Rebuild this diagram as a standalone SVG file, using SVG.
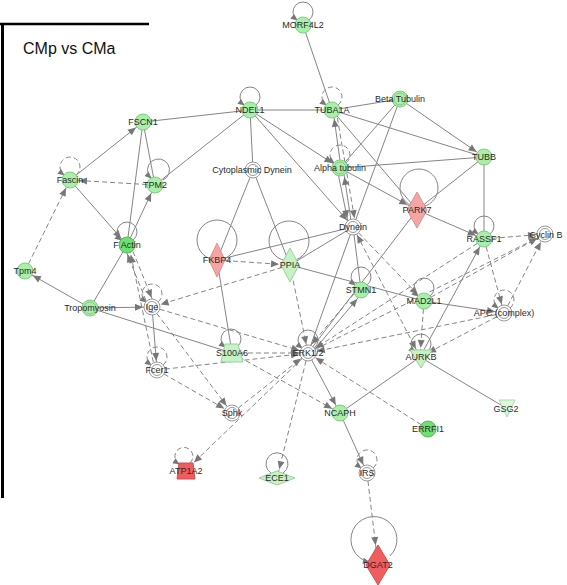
<svg xmlns="http://www.w3.org/2000/svg" width="567" height="585" viewBox="0 0 567 585">
<style>
.e{stroke:#858585;stroke-width:1;fill:none}
.d{stroke-dasharray:5,3}
.g{fill:#a8efa8;stroke:#86c886;stroke-width:1}
.gd{fill:#6fe06f;stroke:#5cb85c;stroke-width:1}
.w{fill:#fff;stroke:#9a9a9a;stroke-width:1}
.pk{fill:#f5a5a5;stroke:#dd9090;stroke-width:1}
.rd{fill:#ef5d5d;stroke:#d05050;stroke-width:1}
.lg{fill:#c6f3c6;stroke:#9bd09b;stroke-width:1}
text{font-family:"Liberation Sans",Arial,sans-serif;font-size:9px;fill:#2a2a2a;text-anchor:middle}
.a9{marker-end:url(#a9)}
.a11{marker-end:url(#a11)}
.a23{marker-end:url(#a23)}
.a0{marker-end:url(#a0)}
</style>
<defs>
<marker id="a9" markerUnits="userSpaceOnUse" orient="auto" markerWidth="30" markerHeight="20" viewBox="-30 -10 30 20" refX="0" refY="0"><path d="M-9,0 L-17,-3.5 L-17,3.5 z" fill="#777"/></marker>
<marker id="a11" markerUnits="userSpaceOnUse" orient="auto" markerWidth="30" markerHeight="20" viewBox="-30 -10 30 20" refX="0" refY="0"><path d="M-11,0 L-19,-3.5 L-19,3.5 z" fill="#777"/></marker>
<marker id="a23" markerUnits="userSpaceOnUse" orient="auto" markerWidth="40" markerHeight="20" viewBox="-40 -10 40 20" refX="0" refY="0"><path d="M-20,0 L-28,-3.5 L-28,3.5 z" fill="#777"/></marker>
<marker id="a0" markerUnits="userSpaceOnUse" orient="auto" markerWidth="20" markerHeight="20" viewBox="-10 -10 20 20" refX="0" refY="0"><path d="M1,0 L-6,-3 L-6,3 z" fill="#777"/></marker>
<marker id="s9" markerUnits="userSpaceOnUse" orient="auto-start-reverse" markerWidth="30" markerHeight="20" viewBox="-30 -10 30 20" refX="0" refY="0"><path d="M-9,0 L-17,-3.5 L-17,3.5 z" fill="#777"/></marker>
</defs>

<rect x="0" y="0" width="567" height="585" fill="#fff"/>
<line x1="0" y1="24" x2="149" y2="24" stroke="#000" stroke-width="2.5"/>
<line x1="2.5" y1="24" x2="2.5" y2="498" stroke="#000" stroke-width="3"/>
<text x="23" y="54" style="font-size:16px;text-anchor:start;fill:#111">CMp vs CMa</text>

<g id="connectors">
<line class="e" x1="303" y1="25" x2="332" y2="110"/>
<line class="e" x1="250" y1="110" x2="332" y2="110"/>
<line class="e" x1="143" y1="122" x2="250" y2="110"/>
<line class="e" x1="250" y1="110" x2="155" y2="185"/>
<line class="e" x1="250" y1="110" x2="253" y2="170"/>
<line class="e a9" x1="250" y1="110" x2="340" y2="168"/>
<line class="e a9" x1="250" y1="110" x2="353" y2="227"/>
<line class="e" x1="332" y1="110" x2="400" y2="99"/>
<line class="e" x1="332" y1="110" x2="484" y2="157"/>
<line class="e" x1="332" y1="110" x2="417" y2="210"/>
<line class="e a9" x1="341" y1="168" x2="333" y2="110"/>
<line class="e d a9" x1="336" y1="110" x2="356" y2="227"/>
<line class="e a9" x1="337" y1="168" x2="349" y2="227"/>
<line class="e a9" x1="352" y1="227" x2="343" y2="168"/>
<line class="e" x1="400" y1="99" x2="340" y2="168"/>
<line class="e a9" x1="400" y1="99" x2="484" y2="157"/>
<line class="e" x1="400" y1="99" x2="353" y2="227"/>
<line class="e" x1="340" y1="168" x2="484" y2="157"/>
<line class="e a11" x1="340" y1="168" x2="417" y2="210"/>
<line class="e" x1="484" y1="157" x2="417" y2="210"/>
<line class="e" x1="484" y1="157" x2="484" y2="239"/>
<line class="e a9" x1="417" y1="210" x2="484" y2="239"/>
<line class="e" x1="417" y1="210" x2="308" y2="353"/>
<line class="e" x1="143" y1="122" x2="127" y2="245"/>
<line class="e" x1="143" y1="122" x2="155" y2="185"/>
<line class="e a9" x1="70" y1="180" x2="143" y2="122"/>
<line class="e d a9" x1="155" y1="185" x2="70" y2="180"/>
<line class="e a9" x1="70" y1="180" x2="127" y2="245"/>
<line class="e a9" x1="127" y1="245" x2="155" y2="185"/>
<line class="e d a9" x1="25" y1="271" x2="70" y2="180"/>
<line class="e a9" x1="90" y1="308" x2="25" y2="271"/>
<line class="e" x1="90" y1="308" x2="127" y2="245"/>
<line class="e a9" x1="90" y1="308" x2="152" y2="307"/>
<line class="e" x1="90" y1="308" x2="232" y2="353"/>
<line class="e d a9" x1="149" y1="308" x2="124" y2="246"/>
<line class="e d a9" x1="130" y1="244" x2="155" y2="306"/>
<line class="e d a9" x1="155" y1="370" x2="129" y2="246"/>
<line class="e a9" x1="152" y1="307" x2="157" y2="370"/>
<line class="e d a9" x1="290" y1="265" x2="152" y2="307"/>
<line class="e d a9" x1="152" y1="307" x2="308" y2="353"/>
<line class="e d a9" x1="152" y1="307" x2="232" y2="413"/>
<line class="e d a9" x1="157" y1="370" x2="308" y2="353"/>
<line class="e d a9" x1="157" y1="370" x2="232" y2="413"/>
<line class="e d a9" x1="232" y1="353" x2="308" y2="353"/>
<line class="e" x1="217" y1="260" x2="232" y2="353"/>
<line class="e d a11" x1="217" y1="260" x2="290" y2="265"/>
<line class="e" x1="253" y1="170" x2="217" y2="260"/>
<line class="e" x1="253" y1="170" x2="290" y2="265"/>
<line class="e" x1="353" y1="227" x2="217" y2="260"/>
<line class="e" x1="353" y1="227" x2="290" y2="265"/>
<line class="e" x1="290" y1="265" x2="424" y2="301"/>
<line class="e" x1="353" y1="227" x2="361" y2="290"/>
<line class="e" x1="353" y1="227" x2="308" y2="353"/>
<line class="e d a9" x1="290" y1="265" x2="308" y2="353"/>
<line class="e a9" x1="310" y1="355" x2="363" y2="292"/>
<line class="e d a9" x1="359" y1="288" x2="306" y2="351"/>
<line class="e d a9" x1="353" y1="227" x2="424" y2="301"/>
<line class="e d a9" x1="353" y1="227" x2="420" y2="357" marker-start="url(#s9)"/>
<line class="e d a9" x1="424" y1="301" x2="420" y2="357"/>
<line class="e a9" x1="424" y1="301" x2="504" y2="313"/>
<line class="e d a9" x1="424" y1="301" x2="545" y2="234"/>
<line class="e d a9" x1="308" y1="353" x2="545" y2="234"/>
<line class="e d a9" x1="484" y1="239" x2="545" y2="234"/>
<line class="e d a9" x1="484" y1="239" x2="504" y2="313"/>
<line class="e d a9" x1="504" y1="313" x2="545" y2="234"/>
<line class="e d a9" x1="504" y1="313" x2="420" y2="357"/>
<line class="e a9" x1="420" y1="357" x2="484" y2="239"/>
<line class="e" x1="420" y1="357" x2="340" y2="413"/>
<line class="e" x1="420" y1="357" x2="506" y2="408"/>
<line class="e d a9" x1="484" y1="239" x2="308" y2="353"/>
<line class="e d a9" x1="504" y1="313" x2="308" y2="353"/>
<line class="e d a9" x1="428" y1="429" x2="308" y2="353"/>
<line class="e a9" x1="308" y1="353" x2="340" y2="413"/>
<line class="e d a9" x1="232" y1="353" x2="340" y2="413"/>
<line class="e d a9" x1="232" y1="413" x2="308" y2="353"/>
<line class="e d a11" x1="308" y1="353" x2="186" y2="470"/>
<line class="e d a9" x1="308" y1="353" x2="277" y2="478"/>
<line class="e a9" x1="340" y1="413" x2="367" y2="473"/>
<line class="e d a23" x1="367" y1="473" x2="378" y2="565"/>
<!-- self loops -->
<path class="e a0" d="M309,20 A10 10 0 1 0 297,20"/>
<path class="e a0" d="M256,105 A10 10 0 1 0 244,105"/>
<path class="e d a0" d="M338,105 A10 10 0 1 0 326,105"/>
<path class="e d a0" d="M346,163 A10 10 0 1 0 334,163"/>
<path class="e d a0" d="M76,175 A10 10 0 1 0 64,175"/>
<path class="e a0" d="M163,180 A11 11 0 1 0 151,178"/>
<path class="e a0" d="M133,240 A10 10 0 1 0 121,240"/>
<path class="e d a0" d="M158,302 A10 10 0 1 0 146,302"/>
<path class="e d a0" d="M163,365 A10 10 0 1 0 151,365"/>
<path class="e a0" d="M367,285 A10 10 0 1 0 355,285"/>
<path class="e a0" d="M490,234 A10 10 0 1 0 478,234"/>
<path class="e a0" d="M430,296 A10 10 0 1 0 418,296"/>
<path class="e d a0" d="M510,308 A10 10 0 1 0 498,308"/>
<path class="e a0" d="M237,347 A10 10 0 1 0 225,347"/>
<path class="e a0" d="M314,348 A10 10 0 1 0 302,348"/>
<path class="e a0" d="M427,352 A10 10 0 1 0 415,352"/>
<path class="e d a0" d="M190,463 A9 9 0 1 0 179,464"/>
<path class="e d a0" d="M373,468 A10 10 0 1 0 361,468"/>
<path class="e" d="M283,473 A11 11 0 1 0 271,473"/>
<circle class="e" cx="217" cy="240" r="20"/>
<circle class="e" cx="289" cy="241" r="20"/>
<circle class="e" cx="419" cy="188" r="19"/>
<path class="e a0" d="M390,556 A23 23 0 1 0 369,562"/>
</g>

<g id="node-MORF4L2"><circle class="g" cx="303" cy="25" r="8"/><text x="303" y="28">MORF4L2</text></g>
<g id="node-NDEL1"><circle class="g" cx="250" cy="110" r="8"/><text x="250" y="113">NDEL1</text></g>
<g id="node-TUBA1A"><circle class="g" cx="332" cy="110" r="8"/><text x="332" y="113">TUBA1A</text></g>
<g id="node-BetaTubulin"><circle class="g" cx="400" cy="99" r="8"/><circle class="g" cx="400" cy="99" r="6" style="fill:none"/><text x="400" y="102">Beta Tubulin</text></g>
<g id="node-TUBB"><circle class="g" cx="484" cy="157" r="8"/><text x="484" y="160">TUBB</text></g>
<g id="node-FSCN1"><circle class="g" cx="143" cy="122" r="8"/><text x="143" y="125">FSCN1</text></g>
<g id="node-Fascin"><circle class="g" cx="70" cy="180" r="8"/><text x="70" y="183">Fascin</text></g>
<g id="node-TPM2"><circle class="g" cx="155" cy="185" r="8"/><text x="155" y="188">TPM2</text></g>
<g id="node-CytoplasmicDynein"><circle class="w" cx="253" cy="170" r="8"/><circle class="w" cx="253" cy="170" r="5.5"/><text x="252" y="173">Cytoplasmic Dynein</text></g>
<g id="node-AlphaTubulin"><circle class="g" cx="340" cy="168" r="8"/><circle class="g" cx="340" cy="168" r="6" style="fill:none"/><text x="340" y="171">Alpha tubulin</text></g>
<g id="node-PARK7"><polygon class="pk" points="417,192 427,210 417,228 407,210"/><text x="417" y="213">PARK7</text></g>
<g id="node-Dynein"><circle class="w" cx="353" cy="227" r="8"/><circle class="w" cx="353" cy="227" r="5.5"/><text x="353" y="230">Dynein</text></g>
<g id="node-RASSF1"><circle class="g" cx="484" cy="239" r="8"/><text x="484" y="242">RASSF1</text></g>
<g id="node-CyclinB"><circle class="w" cx="545" cy="234" r="8"/><circle class="w" cx="545" cy="234" r="5.5"/><text x="546" y="238">Cyclin B</text></g>
<g id="node-FActin"><circle class="gd" cx="127" cy="245" r="8"/><text x="127" y="248">F Actin</text></g>
<g id="node-Tpm4"><circle class="g" cx="25" cy="271" r="8"/><text x="25" y="274">Tpm4</text></g>
<g id="node-FKBP4"><polygon class="pk" points="217,243 225,260 217,277 209,260"/><text x="217" y="263">FKBP4</text></g>
<g id="node-PPIA"><polygon class="lg" points="290,248 299,265 290,282 281,265"/><text x="290" y="268">PPIA</text></g>
<g id="node-STMN1"><circle class="g" cx="361" cy="290" r="8"/><text x="361" y="293">STMN1</text></g>
<g id="node-MAD2L1"><circle class="g" cx="424" cy="301" r="8"/><text x="424" y="304">MAD2L1</text></g>
<g id="node-APC"><circle class="w" cx="504" cy="313" r="8"/><circle class="w" cx="504" cy="313" r="5.5"/><text x="504" y="316">APC (complex)</text></g>
<g id="node-Tropomyosin"><circle class="g" cx="90" cy="308" r="8"/><circle class="g" cx="90" cy="308" r="6" style="fill:none"/><text x="90" y="311">Tropomyosin</text></g>
<g id="node-Ige"><circle class="w" cx="152" cy="307" r="8"/><circle class="w" cx="152" cy="307" r="5.5"/><text x="152" y="310">Ige</text></g>
<g id="node-S100A6"><polygon class="lg" points="225,344 238,344 243,362 221,362"/><text x="232" y="356">S100A6</text></g>
<g id="node-ERK12"><circle class="w" cx="308" cy="353" r="8"/><circle class="w" cx="308" cy="353" r="5.5"/><text x="308" y="356">ERK1/2</text></g>
<g id="node-AURKB"><polygon class="lg" points="410,350 432,350 421,368"/><text x="421" y="360">AURKB</text></g>
<g id="node-Fcer1"><circle class="w" cx="157" cy="370" r="8"/><circle class="w" cx="157" cy="370" r="5.5"/><text x="157" y="373">Fcer1</text></g>
<g id="node-Sphk"><circle class="w" cx="232" cy="413" r="8"/><circle class="w" cx="232" cy="413" r="5.5"/><text x="232" y="416">Sphk</text></g>
<g id="node-NCAPH"><circle class="g" cx="340" cy="413" r="8"/><text x="340" y="416">NCAPH</text></g>
<g id="node-GSG2"><polygon points="499,400 515,400 507,417" style="fill:#daf8da;stroke:#b0d8b0"/><text x="506" y="412">GSG2</text></g>
<g id="node-ERRFI1"><circle class="gd" cx="428" cy="429" r="8"/><text x="428" y="432">ERRFI1</text></g>
<g id="node-ATP1A2"><polygon class="rd" points="179,463 193,463 195,479 177,479"/><text x="186" y="474">ATP1A2</text></g>
<g id="node-ECE1"><polygon class="lg" points="259,478 277,471 295,478 277,485"/><text x="277" y="481">ECE1</text></g>
<g id="node-IRS"><circle class="w" cx="367" cy="473" r="8"/><circle class="w" cx="367" cy="473" r="5.5"/><text x="367" y="476">IRS</text></g>
<g id="node-DGAT2"><polygon class="rd" points="378,545 390,565 378,585 366,565"/><text x="378" y="568">DGAT2</text></g>
</svg>
